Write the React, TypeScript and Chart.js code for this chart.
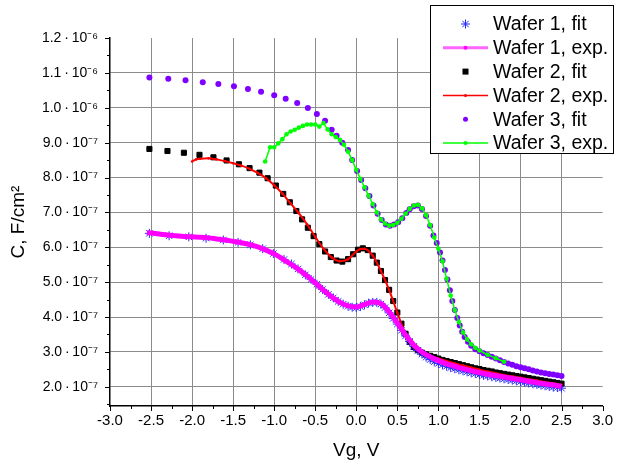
import React, { useEffect, useRef } from "react";
import { Chart, registerables } from "chart.js";

Chart.register(...registerables);

// ---------- axis / tick definitions ----------
const xMin = -3;
const xMax = 3;
const yMin = 1.45e-7;
const yMax = 1.2e-6;
const xMinorStep = 0.25;
const yMinorStep = 0.5e-7;
const xTickValues = [-3, -2.5, -2, -1.5, -1, -0.5, 0, 0.5, 1, 1.5, 2, 2.5, 3];
const xTickLabels = ["-3.0", "-2.5", "-2.0", "-1.5", "-1.0", "-0.5", "0.0", "0.5", "1.0", "1.5", "2.0", "2.5", "3.0"];
const yTickValues = [2e-7, 3e-7, 4e-7, 5e-7, 6e-7, 7e-7, 8e-7, 9e-7, 1.0e-6, 1.1e-6, 1.2e-6];
const yTickLabels = [
  "2.0\u2009·\u200910⁻⁷", "3.0\u2009·\u200910⁻⁷", "4.0\u2009·\u200910⁻⁷", "5.0\u2009·\u200910⁻⁷",
  "6.0\u2009·\u200910⁻⁷", "7.0\u2009·\u200910⁻⁷", "8.0\u2009·\u200910⁻⁷", "9.0\u2009·\u200910⁻⁷",
  "1.0\u2009·\u200910⁻⁶", "1.1\u2009·\u200910⁻⁶", "1.2\u2009·\u200910⁻⁶",
];
const xTitle = "Vg, V";
const yTitle = "C, F/cm²";
const seriesNames = ["Wafer 1, fit", "Wafer 1, exp.", "Wafer 2, fit", "Wafer 2, exp.", "Wafer 3, fit", "Wafer 3, exp."];

// ---------- data (C in units of 1e-7 F/cm²) ----------
const w1FitV = [
  -2.52, -2.28, -2.04, -1.83, -1.62, -1.44, -1.29, -1.14, -1.01, -0.88, -0.79, -0.71, -0.62, -0.55, -0.48, -0.41,
  -0.34, -0.28, -0.22, -0.16, -0.1, -0.05, 0.0, 0.05, 0.1, 0.15, 0.2, 0.25, 0.3, 0.35, 0.4, 0.45, 0.5, 0.55, 0.6,
  0.65, 0.7, 0.75, 0.8, 0.85, 0.9, 0.95, 1.0, 1.05, 1.1, 1.15, 1.2, 1.25, 1.3, 1.35, 1.4, 1.45, 1.5, 1.55, 1.6,
  1.65, 1.7, 1.75, 1.8, 1.85, 1.9, 1.95, 2.0, 2.05, 2.1, 2.15, 2.2, 2.25, 2.3, 2.35, 2.4, 2.45, 2.5,
];
const w1FitC = [
  6.4, 6.33, 6.3, 6.26, 6.21, 6.14, 6.07, 5.96, 5.82, 5.65, 5.52, 5.38, 5.21, 5.08, 4.94, 4.79,
  4.65, 4.55, 4.45, 4.37, 4.31, 4.28, 4.27, 4.3, 4.35, 4.4, 4.42, 4.42, 4.37, 4.27, 4.12, 3.96, 3.8, 3.62, 3.46,
  3.3, 3.16, 3.04, 2.94, 2.85, 2.78, 2.72, 2.67, 2.63, 2.59, 2.55, 2.52, 2.49, 2.46, 2.43, 2.4, 2.38, 2.35, 2.33, 2.31,
  2.29, 2.27, 2.25, 2.23, 2.21, 2.19, 2.17, 2.15, 2.13, 2.11, 2.09, 2.07, 2.05, 2.03, 2.01, 1.99, 1.98, 1.96,
];

const w1ExpV = [
  -2.55, -2.4, -2.3, -2.2, -2.1, -2.0, -1.9, -1.8, -1.7, -1.6, -1.5, -1.4, -1.3, -1.2, -1.1, -1.0, -0.9, -0.8, -0.7,
  -0.6, -0.5, -0.4, -0.3, -0.2, -0.1, 0.0, 0.1, 0.2, 0.3, 0.4, 0.5, 0.6, 0.7, 0.8, 0.9, 1.0, 1.1, 1.2, 1.3, 1.4,
  1.5, 1.6, 1.7, 1.8, 1.9, 2.0, 2.1, 2.2, 2.3, 2.4, 2.5,
];
const w1ExpC = [
  6.42, 6.38, 6.35, 6.33, 6.31, 6.3, 6.29, 6.27, 6.24, 6.21, 6.17, 6.13, 6.08, 6.01, 5.92, 5.81, 5.67, 5.52, 5.36,
  5.18, 4.98, 4.77, 4.58, 4.42, 4.32, 4.29, 4.36, 4.43, 4.39, 4.15, 3.83, 3.49, 3.2, 3.0, 2.86, 2.75, 2.66, 2.59,
  2.52, 2.46, 2.41, 2.36, 2.32, 2.28, 2.24, 2.2, 2.16, 2.12, 2.08, 2.05, 2.01,
];

const w2FitV = [
  -2.52, -2.3, -2.1, -1.91, -1.74, -1.58, -1.43, -1.3, -1.18, -1.08, -0.98, -0.89, -0.81, -0.73, -0.66, -0.59,
  -0.52, -0.45, -0.38, -0.31, -0.24, -0.17, -0.1, -0.04, 0.02, 0.08, 0.14, 0.2, 0.25, 0.3, 0.35, 0.4, 0.45, 0.5,
  0.55, 0.6, 0.65, 0.7, 0.75, 0.8, 0.85, 0.9, 0.95, 1.0, 1.05, 1.1, 1.15, 1.2, 1.25, 1.3, 1.35, 1.4, 1.45, 1.5,
  1.55, 1.6, 1.65, 1.7, 1.75, 1.8, 1.85, 1.9, 1.95, 2.0, 2.05, 2.1, 2.15, 2.2, 2.25, 2.3, 2.35, 2.4, 2.45, 2.5,
];
const w2FitC = [
  8.82, 8.76, 8.71, 8.65, 8.58, 8.49, 8.38, 8.27, 8.14, 7.98, 7.77, 7.53, 7.29, 7.04, 6.8, 6.56,
  6.32, 6.09, 5.88, 5.72, 5.62, 5.59, 5.66, 5.8, 5.93, 5.97, 5.92, 5.76, 5.56, 5.32, 5.06, 4.78, 4.46, 4.13,
  3.81, 3.52, 3.29, 3.14, 3.05, 2.98, 2.93, 2.89, 2.85, 2.81, 2.77, 2.74, 2.71, 2.68, 2.65, 2.62, 2.59, 2.56, 2.53, 2.51,
  2.48, 2.46, 2.44, 2.41, 2.39, 2.37, 2.35, 2.33, 2.31, 2.29, 2.27, 2.25, 2.23, 2.21, 2.19, 2.17, 2.15, 2.13, 2.11, 2.09,
];

const w2ExpV = [
  -2.0, -1.95, -1.9, -1.8, -1.7, -1.6, -1.5, -1.4, -1.3, -1.2, -1.1, -1.0, -0.9, -0.8, -0.7, -0.6, -0.5, -0.4,
  -0.3, -0.2, -0.1, 0.0, 0.05, 0.1, 0.2, 0.3, 0.4, 0.5, 0.6, 0.7, 0.8, 0.9, 1.0, 1.1, 1.2, 1.3, 1.4, 1.5, 1.6,
  1.7, 1.8, 1.9, 2.0, 2.1, 2.2, 2.3, 2.4, 2.5,
];
const w2ExpC = [
  8.46, 8.52, 8.54, 8.55, 8.52, 8.47, 8.41, 8.34, 8.25, 8.13, 7.98, 7.78, 7.54, 7.26, 6.98, 6.66, 6.3, 5.96,
  5.71, 5.6, 5.66, 5.88, 5.95, 5.96, 5.76, 5.32, 4.78, 4.12, 3.52, 3.14, 2.97, 2.88, 2.81, 2.74, 2.67, 2.61, 2.55,
  2.49, 2.44, 2.39, 2.34, 2.3, 2.26, 2.22, 2.18, 2.14, 2.1, 2.06,
];

const w3FitV = [
  -2.52, -2.29, -2.08, -1.87, -1.68, -1.49, -1.32, -1.16, -1.0, -0.86, -0.72, -0.59, -0.48, -0.38, -0.3, -0.24,
  -0.17, -0.1, -0.05, 0.01, 0.06, 0.11, 0.16, 0.21, 0.26, 0.31, 0.36, 0.41, 0.46, 0.51, 0.56, 0.61, 0.65, 0.7,
  0.75, 0.8, 0.85, 0.9, 0.94, 0.98, 1.02, 1.05, 1.08, 1.11, 1.14, 1.17, 1.2, 1.23, 1.26, 1.29, 1.32, 1.36, 1.4,
  1.45, 1.5, 1.55, 1.6, 1.65, 1.7, 1.75, 1.8, 1.85, 1.9, 1.95, 2.0, 2.05, 2.1, 2.15, 2.2, 2.25, 2.3, 2.35, 2.4,
  2.45, 2.5,
];
const w3FitC = [
  10.87, 10.83, 10.79, 10.73, 10.68, 10.62, 10.54, 10.46, 10.36, 10.26, 10.14, 9.99, 9.82, 9.63, 9.37, 9.2,
  9.0, 8.79, 8.5, 8.19, 7.93, 7.69, 7.47, 7.2, 6.96, 6.78, 6.65, 6.62, 6.65, 6.72, 6.83, 6.98, 7.09, 7.18,
  7.2, 7.1, 6.9, 6.62, 6.34, 6.12, 5.85, 5.62, 5.35, 5.08, 4.77, 4.46, 4.2, 3.97, 3.76, 3.58, 3.43, 3.29, 3.18,
  3.08, 3.02, 2.96, 2.91, 2.86, 2.81, 2.76, 2.71, 2.67, 2.63, 2.59, 2.56, 2.53, 2.5, 2.47, 2.44, 2.41, 2.39, 2.37, 2.35,
  2.33, 2.31,
];

const w3ExpV = [
  -1.11, -1.05, -1.0, -0.95, -0.9, -0.85, -0.8, -0.75, -0.7, -0.65, -0.6, -0.55, -0.5, -0.45, -0.4, -0.35, -0.3,
  -0.25, -0.2, -0.15, -0.1, -0.05, 0.0, 0.05, 0.1, 0.15, 0.2, 0.25, 0.3, 0.35, 0.4, 0.45, 0.5, 0.55, 0.6, 0.65,
  0.7, 0.75, 0.8, 0.85, 0.9, 0.95, 1.0, 1.05, 1.1, 1.15, 1.2, 1.25, 1.3, 1.35, 1.4, 1.45, 1.5, 1.6, 1.7, 1.8,
];
const w3ExpC = [
  8.46, 8.87, 8.87, 8.98, 9.1, 9.24, 9.32, 9.37, 9.43, 9.48, 9.52, 9.52, 9.52, 9.46, 9.56, 9.38, 9.24,
  9.16, 9.08, 8.94, 8.74, 8.5, 8.22, 7.96, 7.72, 7.48, 7.24, 7.0, 6.8, 6.68, 6.62, 6.64, 6.7, 6.82, 6.96, 7.1,
  7.2, 7.22, 7.12, 6.92, 6.64, 6.28, 5.96, 5.6, 5.1, 4.62, 4.2, 3.86, 3.56, 3.36, 3.22, 3.12, 3.04, 2.92, 2.82, 2.72,
];

const UNIT = 1e-7;
const toPoints = (xs: number[], cs: number[]) => xs.map((x, i) => ({ x, y: cs[i] * UNIT }));

// ---------- styles ----------
const BLUE = "rgb(40,40,255)";
const MAGENTA = "#ff00ff";
const BLACK = "#000000";
const RED = "#ff0000";
const PURPLE = "#8000ff";
const GREEN = "#00ff00";
const GRID = "#8c8c8c";
const FONT = "'Liberation Sans', Arial, sans-serif";

const axisTicksPlugin = {
  id: "axisTicks",
  afterDraw(chart: any) {
    const { ctx, chartArea, scales } = chart;
    const xs = scales.x;
    const ys = scales.y;
    ctx.save();
    ctx.strokeStyle = BLACK;
    ctx.lineWidth = 1;
    for (let i = 0; ; i++) {
      const v = xMin + i * xMinorStep;
      if (v > xMax + 1e-9) break;
      const px = Math.round(xs.getPixelForValue(v)) + 0.5;
      const len = i % 2 === 0 ? 5 : 3;
      ctx.beginPath();
      ctx.moveTo(px, chartArea.bottom);
      ctx.lineTo(px, chartArea.bottom + len);
      ctx.stroke();
    }
    const yStart = yTickValues[0] - yMinorStep;
    for (let i = 0; ; i++) {
      const v = yStart + i * yMinorStep;
      if (v > yMax * (1 + 1e-9)) break;
      const py = Math.round(ys.getPixelForValue(v)) + 0.5;
      const len = i % 2 === 1 ? 5 : 3;
      ctx.beginPath();
      ctx.moveTo(chartArea.left, py);
      ctx.lineTo(chartArea.left - len, py);
      ctx.stroke();
    }
    ctx.restore();
  },
};

function drawStar(ctx: CanvasRenderingContext2D, x: number, y: number, r: number, color: string) {
  ctx.strokeStyle = color;
  ctx.lineWidth = 1;
  ctx.beginPath();
  for (let k = 0; k < 4; k++) {
    const a = (k * Math.PI) / 4;
    ctx.moveTo(x - r * Math.cos(a), y - r * Math.sin(a));
    ctx.lineTo(x + r * Math.cos(a), y + r * Math.sin(a));
  }
  ctx.stroke();
}

function drawDot(ctx: CanvasRenderingContext2D, x: number, y: number, r: number, color: string) {
  ctx.fillStyle = color;
  ctx.beginPath();
  ctx.arc(x, y, r, 0, Math.PI * 2);
  ctx.fill();
}

function drawLineSample(ctx: CanvasRenderingContext2D, x0: number, x1: number, y: number, w: number, color: string) {
  ctx.strokeStyle = color;
  ctx.lineWidth = w;
  ctx.beginPath();
  ctx.moveTo(x0, y);
  ctx.lineTo(x1, y);
  ctx.stroke();
}

const legendPlugin = {
  id: "customLegend",
  afterDraw(chart: any) {
    const ctx: CanvasRenderingContext2D = chart.ctx;
    const boxL = 430.5;
    const boxT = 5.5;
    const boxR = 613.5;
    const boxB = 153.5;
    ctx.save();
    ctx.fillStyle = "#ffffff";
    ctx.fillRect(boxL, boxT, boxR - boxL, boxB - boxT);
    ctx.strokeStyle = BLACK;
    ctx.lineWidth = 1;
    ctx.strokeRect(boxL, boxT, boxR - boxL, boxB - boxT);
    const rowY0 = 24;
    const rowStep = 23.8;
    const sx0 = 443;
    const sx1 = 488;
    const mx = (sx0 + sx1) / 2;
    ctx.font = `19.5px ${FONT}`;
    ctx.textBaseline = "middle";
    ctx.textAlign = "left";
    seriesNames.forEach((name, i) => {
      const y = rowY0 + i * rowStep;
      if (i === 0) drawStar(ctx, mx, y, 4.5, BLUE);
      if (i === 1) {
        drawLineSample(ctx, sx0, sx1, y, 3, "#ff66ff");
        drawDot(ctx, mx, y, 2, MAGENTA);
      }
      if (i === 2) {
        ctx.fillStyle = BLACK;
        ctx.fillRect(mx - 3, y - 3, 6, 6);
      }
      if (i === 3) {
        drawLineSample(ctx, sx0, sx1, y, 1.5, RED);
        drawDot(ctx, mx, y, 1.5, RED);
      }
      if (i === 4) drawDot(ctx, mx, y, 2.5, PURPLE);
      if (i === 5) {
        drawLineSample(ctx, sx0, sx1, y, 1.5, GREEN);
        drawDot(ctx, mx, y, 2, GREEN);
      }
      ctx.fillStyle = BLACK;
      ctx.fillText(name, 493, y + 1);
    });
    ctx.restore();
  },
};

export default function App() {
  const canvasRef = useRef<HTMLCanvasElement | null>(null);

  useEffect(() => {
    const canvas = canvasRef.current;
    if (!canvas) return;
    const chart = new Chart(canvas, {
      type: "scatter",
      data: {
        datasets: [
          {
            label: seriesNames[0],
            data: toPoints(w1FitV, w1FitC),
            showLine: false,
            pointStyle: "star",
            pointRadius: 4.5,
            borderColor: BLUE,
            backgroundColor: BLUE,
            pointBorderWidth: 1,
            order: 1,
          },
          {
            label: seriesNames[1],
            data: toPoints(w1ExpV, w1ExpC),
            showLine: true,
            borderColor: MAGENTA,
            backgroundColor: MAGENTA,
            borderWidth: 5,
            pointRadius: 0,
            cubicInterpolationMode: "monotone",
            order: 0,
          },
          {
            label: seriesNames[2],
            data: toPoints(w2FitV, w2FitC),
            showLine: false,
            pointStyle: "rect",
            pointRadius: 3.6,
            borderColor: BLACK,
            backgroundColor: BLACK,
            pointBorderWidth: 1,
            order: 3,
          },
          {
            label: seriesNames[3],
            data: toPoints(w2ExpV, w2ExpC),
            showLine: true,
            borderColor: RED,
            backgroundColor: RED,
            borderWidth: 2,
            pointRadius: 1.3,
            pointBorderWidth: 0,
            cubicInterpolationMode: "monotone",
            order: 2,
          },
          {
            label: seriesNames[4],
            data: toPoints(w3FitV, w3FitC),
            showLine: false,
            pointStyle: "circle",
            pointRadius: 3,
            borderColor: PURPLE,
            backgroundColor: PURPLE,
            pointBorderWidth: 0,
            order: 5,
          },
          {
            label: seriesNames[5],
            data: toPoints(w3ExpV, w3ExpC),
            showLine: true,
            borderColor: GREEN,
            backgroundColor: GREEN,
            borderWidth: 1.5,
            pointRadius: 2.3,
            pointBorderWidth: 0,
            order: 4,
          },
        ],
      },
      options: {
        animation: false,
        responsive: false,
        devicePixelRatio: 1,
        layout: { padding: { left: 0, top: 38, right: 12, bottom: 0 } },
        plugins: {
          legend: { display: false },
          tooltip: { enabled: false },
        },
        scales: {
          x: {
            type: "linear",
            min: xMin,
            max: xMax,
            afterBuildTicks: (scale: any) => {
              scale.ticks = xTickValues.map((value) => ({ value }));
            },
            afterFit: (scale: any) => {
              scale.height = 60;
            },
            grid: {
              drawTicks: false,
              lineWidth: 1,
              color: (c: any) =>
                c.tick && (c.tick.value === xMax || c.tick.value === xMin) ? "rgba(0,0,0,0)" : GRID,
            },
            border: { display: true, color: BLACK, width: 1.5 },
            ticks: {
              padding: 6,
              color: BLACK,
              font: { family: FONT, size: 15 },
              maxRotation: 0,
              autoSkip: false,
              callback: (_v: any, i: number) => xTickLabels[i],
            },
            title: {
              display: true,
              text: xTitle,
              color: BLACK,
              font: { family: FONT, size: 19 },
              padding: { top: 0, bottom: 4 },
            },
          },
          y: {
            type: "linear",
            min: yMin,
            max: yMax,
            afterBuildTicks: (scale: any) => {
              scale.ticks = yTickValues.map((value) => ({ value }));
            },
            afterFit: (scale: any) => {
              scale.width = 110;
            },
            grid: {
              drawTicks: false,
              lineWidth: 1,
              color: (c: any) => (c.tick && c.tick.value === yMax ? "rgba(0,0,0,0)" : GRID),
            },
            border: { display: true, color: BLACK, width: 1.5 },
            ticks: {
              padding: 12,
              color: BLACK,
              font: { family: FONT, size: 14 },
              autoSkip: false,
              callback: (_v: any, i: number) => yTickLabels[i],
            },
            title: {
              display: true,
              text: yTitle,
              color: BLACK,
              font: { family: FONT, size: 19 },
              padding: { top: 7, bottom: 0 },
            },
          },
        },
      },
      plugins: [axisTicksPlugin, legendPlugin],
    } as any);
    return () => chart.destroy();
  }, []);

  return (
    <div style={{ position: "fixed", left: 0, top: 0, width: 619, height: 466, background: "#ffffff" }}>
      <canvas ref={canvasRef} width={619} height={466} style={{ display: "block", width: 619, height: 466 }} />
    </div>
  );
}
